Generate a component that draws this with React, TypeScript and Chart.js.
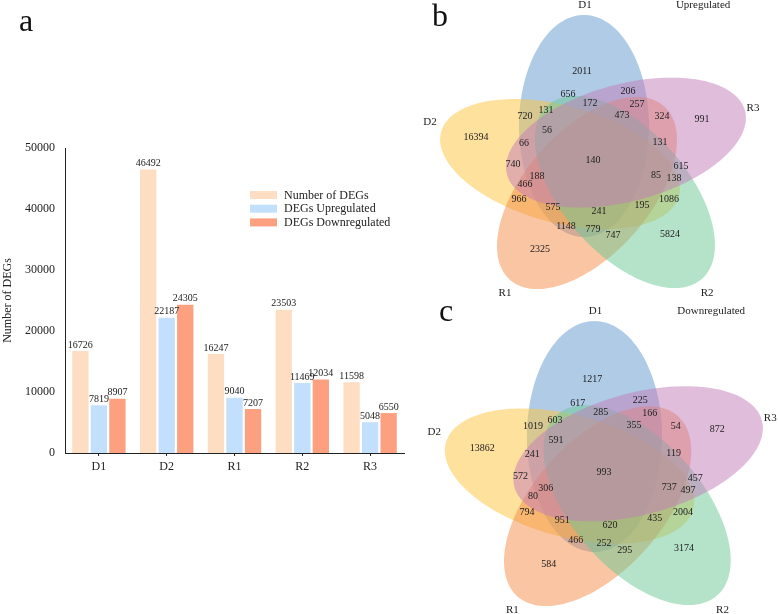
import React, { useEffect, useRef } from 'react';
import { Chart, registerables } from 'chart.js';

Chart.register(...registerables);

const SERIF = '"Liberation Serif", "Times New Roman", Times, serif';

// ---------- Panel a data ----------
const CATEGORIES = ['D1', 'D2', 'R1', 'R2', 'R3'];
const TOTAL_DEGS = [16726, 46492, 16247, 23503, 11598];
const UP_DEGS = [7819, 22187, 9040, 11469, 5048];
const DOWN_DEGS = [8907, 24305, 7207, 12034, 6550];
const SERIES_LABELS = ['Number of DEGs', 'DEGs Upregulated', 'DEGs Downregulated'];
const Y_TICKS = [0, 10000, 20000, 30000, 40000, 50000];

// ---------- Panels b / c data ----------
const VENN_SETS = ['D1', 'D2', 'R1', 'R2', 'R3'];
const UP_REGION_COUNTS = [2011, 656, 206, 172, 257, 131, 720, 473, 324, 991, 16394, 56, 66, 131, 140, 740, 615, 188, 85, 138, 466, 966, 1086, 575, 195, 241, 1148, 779, 747, 5824, 2325];
const DOWN_REGION_COUNTS = [1217, 617, 225, 285, 166, 603, 1019, 355, 54, 872, 13862, 591, 241, 119, 993, 572, 457, 306, 737, 497, 80, 794, 2004, 951, 435, 620, 466, 252, 295, 3174, 584];

// ---------- layout (Venn coordinate space) ----------
const REGION_X = [-12.9, -25.4, 28.2, -5.7, 36.3, -45, -63.8, 22.9, 58.6, 94.3, -107.5, -44.1, -64.6, 56.8, -3, -74.5, 75.5, -53, 53.2, 69.3, -63.8, -69.1, 64.8, -38.8, 40.7, 2.3, -27.1, -3, 14.8, 65.7, -50.4];
const REGION_Y = [92, 69, 72, 60, 59, 53, 47, 48, 47, 44, 26, 33, 20, 21, 3, -1, -3, -13, -12, -15, -21, -36, -36, -44, -42, -48, -63, -66, -72, -71, -86];
const SET_LABEL_X = [-10.2, -148.6, -81.6, 98.8, 139.8];
const SET_LABEL_Y = [158, 41, -130, -130, 55];
const ELLIPSE_AXIS_DEG = [90, 162, 234, 306, 18];
const ELLIPSE_CX = [-11.1, -32.5, -8.4, 25.5, 26.4];
const ELLIPSE_CY = [37, -1, -30, -29, 20.4];
const ELLIPSE_MAJOR = 111;
const ELLIPSE_MINOR = 58;
const SET_FILLS = [
  'rgba(96,152,206,0.5)',
  'rgba(255,196,62,0.5)',
  'rgba(244,140,70,0.5)',
  'rgba(108,200,150,0.5)',
  'rgba(196,124,186,0.5)',
];

const TEXT = '#222';

function BarPanel() {
  const ref = useRef<HTMLCanvasElement>(null);
  useEffect(() => {
    if (!ref.current) return;
    const colors = ['#FDDEC2', '#C2E0FB', '#FCA080'];
    const valueLabels = {
      id: 'valueLabels',
      afterDatasetsDraw(chart: any) {
        const ctx = chart.ctx;
        ctx.save();
        ctx.font = `10px ${SERIF}`;
        ctx.fillStyle = TEXT;
        ctx.textAlign = 'center';
        ctx.textBaseline = 'bottom';
        chart.data.datasets.forEach((ds: any, i: number) => {
          chart.getDatasetMeta(i).data.forEach((el: any, j: number) => {
            ctx.fillText(String(ds.data[j]), el.x, el.y - 1);
          });
        });
        ctx.restore();
      },
    };
    const insideLegend = {
      id: 'insideLegend',
      afterDraw(chart: any) {
        const { ctx, chartArea } = chart;
        const x0 = chartArea.left + 185;
        const y0 = chartArea.top + 47;
        ctx.save();
        ctx.font = `12px ${SERIF}`;
        ctx.textAlign = 'left';
        ctx.textBaseline = 'middle';
        chart.data.datasets.forEach((ds: any, i: number) => {
          const y = y0 + i * 13.7;
          ctx.fillStyle = ds.backgroundColor;
          ctx.fillRect(x0, y - 4, 27, 8);
          ctx.fillStyle = TEXT;
          ctx.fillText(ds.label, x0 + 34, y + 0.5);
        });
        ctx.restore();
      },
    };
    const series = [TOTAL_DEGS, UP_DEGS, DOWN_DEGS];
    const chart = new Chart(ref.current, {
      type: 'bar',
      data: {
        labels: CATEGORIES,
        datasets: series.map((d, i) => ({
          label: SERIES_LABELS[i],
          data: d,
          backgroundColor: colors[i],
          borderWidth: 0,
          categoryPercentage: 0.82,
          barPercentage: 0.88,
        })),
      },
      options: {
        animation: false,
        responsive: false,
        devicePixelRatio: 1,
        layout: { padding: { top: 148, right: 16, left: 0, bottom: 0 } },
        plugins: { legend: { display: false }, tooltip: { enabled: false } },
        scales: {
          x: {
            grid: { display: true, drawOnChartArea: false, drawTicks: true, tickLength: 3, offset: false, color: TEXT },
            border: { display: true, color: TEXT, width: 1 },
            ticks: { font: { family: SERIF, size: 12 }, color: TEXT, padding: 4 },
            afterFit: (s: any) => { s.height = 37; },
          },
          y: {
            min: 0,
            max: 50000,
            grid: { display: false, drawTicks: false, tickLength: 0 },
            border: { display: true, color: TEXT, width: 1 },
            ticks: {
              font: { family: SERIF, size: 12 },
              color: TEXT,
              padding: 10,
              callback: (v: any) => String(v),
            },
            afterBuildTicks: (s: any) => { s.ticks = Y_TICKS.map((v) => ({ value: v })); },
            title: { display: true, text: 'Number of DEGs', font: { family: SERIF, size: 12 }, color: TEXT, padding: { top: 1, bottom: 0 } },
            afterFit: (s: any) => { s.width = 65; },
          },
        },
      } as any,
      plugins: [valueLabels, insideLegend],
    });
    return () => chart.destroy();
  }, []);
  return <canvas ref={ref} width={420} height={490} style={{ position: 'absolute', left: 0, top: 0 }} />;
}

type Box = { left: number; top: number; width: number; height: number; cx: number; cy: number; sx: number; sy: number };

function VennPanel({ counts, title, titleX, box }: { counts: number[]; title: string; titleX: number; box: Box }) {
  const ref = useRef<HTMLCanvasElement>(null);
  useEffect(() => {
    if (!ref.current) return;
    const { width, height, cx, cy, sx, sy } = box;
    const venn = {
      id: 'venn',
      beforeDatasetsDraw(chart: any) {
        const { ctx } = chart;
        const xs = chart.scales.x;
        const ys = chart.scales.y;
        ctx.save();
        ELLIPSE_AXIS_DEG.forEach((deg, i) => {
          const ang = (deg * Math.PI) / 180;
          const ecx = ELLIPSE_CX[i];
          const ecy = ELLIPSE_CY[i];
          ctx.beginPath();
          const N = 180;
          for (let k = 0; k <= N; k++) {
            const t = (k / N) * Math.PI * 2;
            const lx = ELLIPSE_MAJOR * Math.cos(t);
            const ly = ELLIPSE_MINOR * Math.sin(t);
            const X = ecx + lx * Math.cos(ang) - ly * Math.sin(ang);
            const Y = ecy + lx * Math.sin(ang) + ly * Math.cos(ang);
            const px = xs.getPixelForValue(X);
            const py = ys.getPixelForValue(Y);
            if (k === 0) ctx.moveTo(px, py);
            else ctx.lineTo(px, py);
          }
          ctx.closePath();
          ctx.fillStyle = SET_FILLS[i];
          ctx.fill();
        });
        ctx.restore();
      },
      afterDatasetsDraw(chart: any) {
        const { ctx } = chart;
        const xs = chart.scales.x;
        const ys = chart.scales.y;
        ctx.save();
        ctx.fillStyle = TEXT;
        ctx.font = `10px ${SERIF}`;
        ctx.textAlign = 'center';
        ctx.textBaseline = 'middle';
        const pts = chart.getDatasetMeta(0).data;
        pts.forEach((el: any, i: number) => {
          ctx.fillText(String(counts[i]), el.x, el.y);
        });
        ctx.font = `11px ${SERIF}`;
        VENN_SETS.forEach((name, i) => {
          ctx.fillText(name, xs.getPixelForValue(SET_LABEL_X[i]), ys.getPixelForValue(SET_LABEL_Y[i]));
        });
        ctx.textAlign = 'left';
        ctx.fillText(title, xs.getPixelForValue(titleX), ys.getPixelForValue(SET_LABEL_Y[0]));
        ctx.restore();
      },
    };
    const chart = new Chart(ref.current, {
      type: 'scatter',
      data: {
        datasets: [
          {
            data: REGION_X.map((x, i) => ({ x, y: REGION_Y[i] })),
            pointRadius: 0,
            pointHoverRadius: 0,
          },
        ],
      },
      options: {
        animation: false,
        responsive: false,
        devicePixelRatio: 1,
        layout: { padding: 0 },
        plugins: { legend: { display: false }, tooltip: { enabled: false } },
        scales: {
          x: { type: 'linear', display: false, min: -cx / sx, max: (width - cx) / sx },
          y: { type: 'linear', display: false, min: -(height - cy) / sy, max: cy / sy },
        },
      } as any,
      plugins: [venn],
    });
    return () => chart.destroy();
  }, [counts, title, titleX, box]);
  return (
    <canvas
      ref={ref}
      width={box.width}
      height={box.height}
      style={{ position: 'absolute', left: box.left, top: box.top }}
    />
  );
}

const BOX_B: Box = { left: 400, top: 0, width: 378, height: 310, cx: 196.4, cy: 163, sx: 1.12, sy: 1 };
const BOX_C: Box = { left: 400, top: 298, width: 378, height: 316, cx: 207.4, cy: 177, sx: 1.1648, sy: 1.04 };

const letterStyle: React.CSSProperties = {
  position: 'absolute',
  fontFamily: SERIF,
  fontSize: 32,
  lineHeight: '32px',
  color: '#111',
  margin: 0,
};

export default function App() {
  return (
    <div style={{ position: 'absolute', left: 0, top: 0, width: 778, height: 614, background: '#fff', overflow: 'hidden' }}>
      <BarPanel />
      <VennPanel counts={UP_REGION_COUNTS} title="Upregulated" titleX={71} box={BOX_B} />
      <VennPanel counts={DOWN_REGION_COUNTS} title="Downregulated" titleX={60} box={BOX_C} />
      <div style={{ ...letterStyle, left: 19, top: 4 }}>a</div>
      <div style={{ ...letterStyle, left: 432, top: -1 }}>b</div>
      <div style={{ ...letterStyle, left: 439, top: 294 }}>c</div>
    </div>
  );
}
